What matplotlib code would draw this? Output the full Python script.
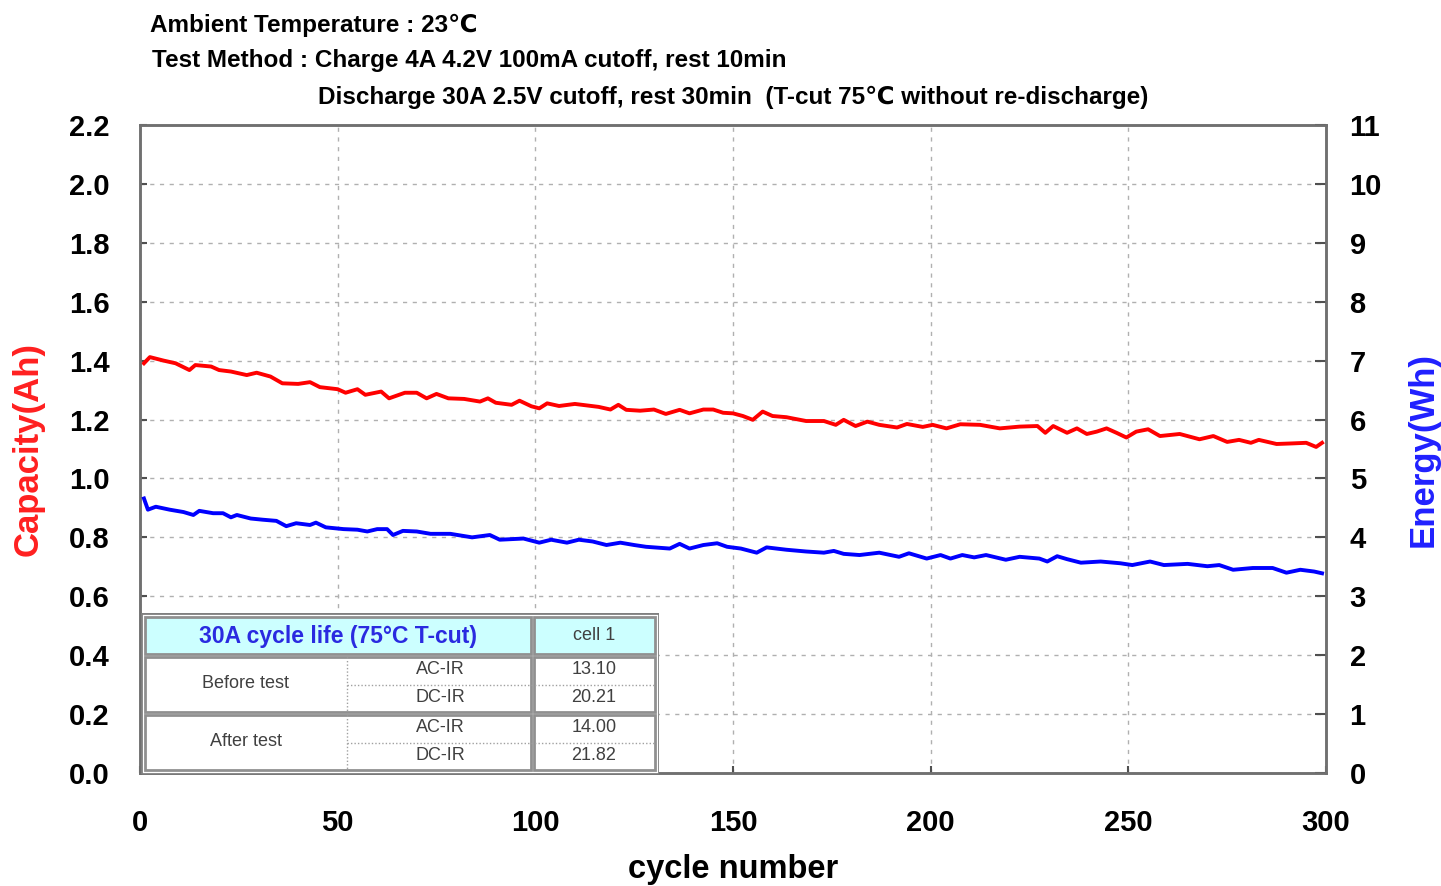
import matplotlib
matplotlib.use("Agg")
import matplotlib.pyplot as plt
from matplotlib.patches import Rectangle

# capacity (Ah)
cap_cycles = [1, 2.5, 6, 9, 12.5, 14, 18, 20, 23, 27, 29.5, 33, 36, 40, 43, 45.5, 50,
              52, 55, 57, 61, 63, 67, 70, 72.5, 75, 78, 82, 86, 88, 90, 94, 96, 99,
              101, 103, 106, 110, 116, 119, 121, 123, 126.5, 130, 133, 136.5, 139,
              142.5, 145, 147.5, 150, 152.5, 155, 157.5, 160, 163.5, 165, 168.5,
              173, 176, 178, 181, 184, 187, 191.5, 194, 198, 200.5, 204, 207.5,
              212.5, 217.5, 222.5, 227, 229, 231, 234.5, 237, 239.5, 242, 244.5,
              247, 249.5, 252, 255, 258, 263, 268, 271.5, 275, 278, 281, 283, 287.5,
              291.5, 295, 297.5, 299]
cap_ah = [1.391, 1.412, 1.400, 1.391, 1.368, 1.385, 1.380, 1.368, 1.363, 1.351, 1.359,
          1.346, 1.323, 1.321, 1.327, 1.310, 1.303, 1.291, 1.303, 1.284, 1.295, 1.272,
          1.291, 1.291, 1.272, 1.287, 1.272, 1.270, 1.261, 1.272, 1.257, 1.250, 1.264,
          1.245, 1.238, 1.255, 1.246, 1.253, 1.243, 1.234, 1.250, 1.233, 1.230, 1.234,
          1.219, 1.233, 1.221, 1.234, 1.234, 1.223, 1.221, 1.212, 1.199, 1.227, 1.212,
          1.208, 1.204, 1.195, 1.195, 1.182, 1.199, 1.178, 1.193, 1.182, 1.173, 1.185,
          1.175, 1.182, 1.170, 1.184, 1.182, 1.170, 1.176, 1.178, 1.155, 1.178, 1.155,
          1.170, 1.151, 1.159, 1.170, 1.155, 1.139, 1.159, 1.167, 1.144, 1.151, 1.133,
          1.144, 1.124, 1.131, 1.121, 1.131, 1.117, 1.119, 1.121, 1.107, 1.121]

# energy (Wh)
en_cycles = [1, 2, 4, 7.5, 11, 13.5, 15, 18.5, 21, 23, 24.5, 28, 31, 34.5, 37, 39.5,
             43, 44.5, 47, 51.5, 55, 57.5, 60, 62.5, 64, 66.5, 70, 73.5, 78.5, 84,
             88.5, 91, 97, 101, 104, 108, 111, 114.5, 118, 121.5, 125, 128, 134,
             136.5, 139, 142.5, 146, 148.5, 152, 156, 158.5, 163.5, 168.5, 173, 175.5,
             178, 182, 187, 192, 194.5, 199, 202.5, 205, 208, 211, 214, 219, 222.5,
             227.5, 229.5, 232, 234.5, 238, 243, 248, 251, 255.5, 259, 265, 270,
             273, 276.5, 281.5, 286.5, 290, 293.5, 297, 299]
en_wh = [4.66, 4.47, 4.52, 4.47, 4.43, 4.38, 4.45, 4.41, 4.41, 4.34, 4.38, 4.32, 4.30,
         4.28, 4.19, 4.24, 4.21, 4.25, 4.17, 4.14, 4.13, 4.10, 4.14, 4.14, 4.04, 4.11,
         4.10, 4.06, 4.06, 4.00, 4.04, 3.96, 3.98, 3.91, 3.96, 3.91, 3.96, 3.93, 3.87,
         3.91, 3.87, 3.84, 3.81, 3.89, 3.81, 3.87, 3.90, 3.84, 3.81, 3.74, 3.83, 3.79,
         3.76, 3.74, 3.77, 3.72, 3.70, 3.74, 3.67, 3.73, 3.64, 3.70, 3.64, 3.70, 3.66,
         3.70, 3.62, 3.67, 3.64, 3.59, 3.68, 3.63, 3.57, 3.59, 3.56, 3.53, 3.59, 3.53,
         3.55, 3.51, 3.53, 3.45, 3.48, 3.48, 3.40, 3.45, 3.42, 3.39]

header_lines = ["Ambient Temperature : 23\u2103",
                "Test Method : Charge 4A 4.2V 100mA cutoff, rest 10min",
                "Discharge 30A 2.5V cutoff, rest 30min  (T-cut 75\u2103 without re-discharge)"]

table_title = "30A cycle life (75\u00b0C T-cut)"
table_cell = "cell 1"
table_groups = ["Before test", "After test"]
table_items = ["AC-IR", "DC-IR"]
table_values = [["13.10", "20.21"], ["14.00", "21.82"]]

W, H = 1441, 886
sans = ["Liberation Sans", "DejaVu Sans"]
fig = plt.figure(figsize=(W / 100, H / 100), dpi=100)
ax = fig.add_axes([140 / W, 1 - 773 / H, (1326 - 140) / W, (773 - 125) / H])
ax2 = ax.twinx()

ax.plot(cap_cycles, cap_ah, color="#ff0000", lw=2.8, zorder=3)
ax2.plot(en_cycles, en_wh, color="#0000ff", lw=2.8, zorder=3)

ax.set_xlim(0, 300)
ax.set_ylim(0, 2.2)
ax2.set_ylim(0, 11)
ax.set_xticks(range(0, 301, 50))
ax.set_yticks([i / 10 for i in range(0, 23, 2)])
ax.set_yticklabels([f"{i / 10:.1f}" for i in range(0, 23, 2)])
ax2.set_yticks(range(0, 12))

ax.grid(True, color="#b0b0b0", ls=(0, (3, 4)), lw=1)
ax.set_axisbelow(True)
for a in (ax, ax2):
    for s in a.spines.values():
        s.set_color("#707070")
        s.set_linewidth(1.8)

tick_font = dict(family=sans, weight="bold", size=21)
ax.tick_params(axis="y", direction="in", length=5, width=1.5, color="#505050", pad=22)
ax.tick_params(axis="x", direction="in", length=5, width=1.5, color="#505050", pad=26)
ax2.tick_params(axis="y", direction="in", length=8, width=1.5, color="#505050", pad=17)
for lab in ax.get_xticklabels() + ax.get_yticklabels() + ax2.get_yticklabels():
    lab.set_fontproperties(matplotlib.font_manager.FontProperties(**tick_font))

ax.set_xlabel("cycle number", fontsize=23.5, fontweight="bold", family=sans, labelpad=12)
ax.set_ylabel("Capacity(Ah)", fontsize=25, fontweight="bold", color="#ff2020", family=sans, labelpad=17)
ax2.set_ylabel("Energy(Wh)", fontsize=25, fontweight="bold", color="#2020ff", family=sans, labelpad=18)

# header text
hdr = dict(fontsize=17.5, fontweight="bold", family=sans, va="center", ha="left")
fig.text(150 / W, 1 - 25 / H, header_lines[0], **hdr)
fig.text(152 / W, 1 - 61 / H, header_lines[1], **hdr)
fig.text(318 / W, 1 - 97 / H, header_lines[2], **hdr)

# inset table drawn in pixel coordinates
tab = fig.add_axes([141 / W, 1 - 774 / H, (659 - 141) / W, (774 - 613) / H])
tab.set_xlim(141, 659)
tab.set_ylim(774, 613)
tab.axis("off")
tab.add_patch(Rectangle((141, 613), 518, 161, facecolor="white", edgecolor="#808080", lw=2))
tab.add_patch(Rectangle((145, 617), 386, 37, facecolor="#ccffff", edgecolor="#909090", lw=2))
tab.add_patch(Rectangle((534, 617), 121, 37, facecolor="#ccffff", edgecolor="#909090", lw=2))
for top in (657, 715):
    tab.add_patch(Rectangle((145, top), 386, 55, facecolor="white", edgecolor="#909090", lw=2))
    tab.add_patch(Rectangle((534, top), 121, 55, facecolor="white", edgecolor="#909090", lw=2))
    tab.plot([347, 347], [top, top + 55], color="#a0a0a0", lw=1, ls=(0, (1, 1.5)))
    tab.plot([347, 655], [top + 28, top + 28], color="#a0a0a0", lw=1, ls=(0, (1, 1.5)))

tab.text(338, 636, table_title, color="#2a2ae0", fontsize=16.5, fontweight="bold",
         family=sans, ha="center", va="center")
tab.text(594, 636, table_cell, color="#404040", fontsize=13, family=sans, ha="center", va="center")
for g, top in enumerate((657, 715)):
    tab.text(246, top + 27, table_groups[g], color="#404040", fontsize=13, family=sans,
             ha="center", va="center")
    for k in range(2):
        yc = top + 13 + 28 * k
        tab.text(440, yc, table_items[k], color="#404040", fontsize=13, family=sans,
                 ha="center", va="center")
        tab.text(594, yc, table_values[g][k], color="#404040", fontsize=13, family=sans,
                 ha="center", va="center")

fig.savefig("out.png", dpi=100)
